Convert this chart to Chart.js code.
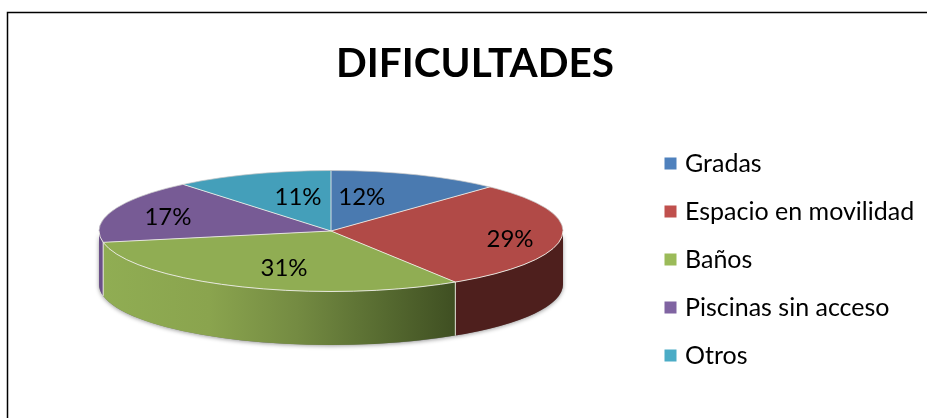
<!DOCTYPE html>
<html lang="es">
<head>
<meta charset="utf-8">
<style>html,body{margin:0;padding:0;background:#fff}canvas{display:block}</style>
<script src="https://cdn.jsdelivr.net/npm/chart.js@4"></script>
</head>
<body>
<canvas id="c" width="927" height="418"></canvas>
<script>
const titleText = 'DIFICULTADES';
const categories = ['Gradas', 'Espacio en movilidad', 'Baños', 'Piscinas sin acceso', 'Otros'];
const values = [12, 29, 31, 17, 11];
const topColors = ['#4a7ab0', '#b14a47', '#90ad53', '#775b95', '#449fba'];
const legendColors = ['#4f81bd', '#c0504d', '#9bbb59', '#8064a2', '#4bacc6'];
const wallColors = ['#2f4a6e', '#4e1f1d', null, '#6a4f88', '#2c6a7c'];
const bathWallStops = [[0, '#90ad53'], [0.3, '#8aa44e'], [0.55, '#748b42'], [0.8, '#566a30'], [1, '#3f4f22']];

// Layout of the tilted pie and of its labels
const PIE = { cx: 331, cy: 231, rx: 232, ry: 60.5, depth: 53.5 };
const labelReachX = [0.36, 0.775, 0.51, 0.747, 0.42];
const labelReachY = [0.6, 1.5, 0.68, 0.68, 0.6];
const LEGEND_POS = { left: 645.5, top: 128 };

const FONT = 'Lato, Carlito, Calibri, "Open Sans", sans-serif';

const pt = (a, r = 1, dy = 0) => [PIE.cx + PIE.rx * r * Math.cos(a), PIE.cy + PIE.ry * r * Math.sin(a) + dy];

const pie3d = {
  id: 'pie3d',
  beforeDraw(chart) {
    const c = chart.ctx;
    c.save();
    c.fillStyle = '#fff';
    c.fillRect(0, 0, chart.width, chart.height);
    c.strokeStyle = '#000';
    c.lineWidth = 1.5;
    c.beginPath();
    c.moveTo(7.5, chart.height);
    c.lineTo(7.5, 12.5);
    c.lineTo(chart.width, 12.5);
    c.stroke();
    c.restore();
  },
  afterLayout(chart) {
    const l = chart.legend;
    const w = l.width, h = l.height;
    l.left = LEGEND_POS.left; l.right = l.left + w;
    l.top = LEGEND_POS.top; l.bottom = l.top + h;
  },
  beforeDatasetsDraw(chart) {
    const c = chart.ctx;
    const arcs = chart.getDatasetMeta(0).data;
    // soft shadow under the whole body
    c.save();
    c.shadowColor = 'rgba(0,0,0,0.4)';
    c.shadowBlur = 4;
    c.shadowOffsetY = 1;
    c.fillStyle = '#777';
    c.beginPath();
    c.ellipse(PIE.cx, PIE.cy, PIE.rx, PIE.ry, 0, 0, Math.PI);
    c.ellipse(PIE.cx, PIE.cy + PIE.depth, PIE.rx, PIE.ry, 0, Math.PI, 0, true);
    c.closePath();
    c.fill();
    c.restore();
    // side walls of the front half
    arcs.forEach((arc, i) => {
      const a = Math.max(arc.startAngle, 0), b = Math.min(arc.endAngle, Math.PI);
      if (b <= a) return;
      c.save();
      if (wallColors[i]) {
        c.fillStyle = wallColors[i];
      } else {
        const g = c.createLinearGradient(pt(b)[0], 0, pt(a)[0], 0);
        bathWallStops.forEach(s => g.addColorStop(s[0], s[1]));
        c.fillStyle = g;
      }
      c.beginPath();
      c.ellipse(PIE.cx, PIE.cy, PIE.rx, PIE.ry, 0, a, b);
      c.ellipse(PIE.cx, PIE.cy + PIE.depth, PIE.rx, PIE.ry, 0, b, a, true);
      c.closePath();
      c.fill();
      c.strokeStyle = 'rgba(235,235,225,0.8)';
      c.lineWidth = 1;
      const p = pt(a), q = pt(b);
      c.beginPath();
      if (a > 0) { c.moveTo(p[0], p[1]); c.lineTo(p[0], p[1] + PIE.depth); }
      if (b < Math.PI) { c.moveTo(q[0], q[1]); c.lineTo(q[0], q[1] + PIE.depth); }
      c.stroke();
      c.restore();
    });
    // the library draws the slices through this flattening transform
    const a0 = arcs[0];
    c.save();
    c.translate(PIE.cx, PIE.cy);
    c.scale(PIE.rx / a0.outerRadius, PIE.ry / a0.outerRadius);
    c.translate(-a0.x, -a0.y);
  },
  afterDatasetsDraw(chart) {
    const c = chart.ctx;
    c.restore();
    const arcs = chart.getDatasetMeta(0).data;
    // slice separators and light rim
    c.save();
    c.strokeStyle = 'rgba(240,240,232,0.85)';
    c.lineWidth = 1;
    arcs.forEach(arc => {
      const p = pt(arc.startAngle);
      c.beginPath();
      c.moveTo(PIE.cx, PIE.cy);
      c.lineTo(p[0], p[1]);
      c.stroke();
    });
    c.strokeStyle = 'rgba(240,240,232,0.9)';
    c.beginPath();
    c.ellipse(PIE.cx, PIE.cy, PIE.rx, PIE.ry, 0, 0, Math.PI);
    c.stroke();
    c.strokeStyle = 'rgba(200,200,200,0.7)';
    c.beginPath();
    c.ellipse(PIE.cx, PIE.cy, PIE.rx, PIE.ry, 0, Math.PI, 2 * Math.PI);
    c.stroke();
    // percentage labels
    const total = values.reduce((s, v) => s + v, 0);
    c.fillStyle = '#000';
    c.font = '24px ' + FONT;
    c.textAlign = 'center';
    c.textBaseline = 'middle';
    arcs.forEach((arc, i) => {
      const mid = (arc.startAngle + arc.endAngle) / 2;
      const x = PIE.cx + PIE.rx * labelReachX[i] * Math.cos(mid);
      const y = PIE.cy + PIE.ry * (Math.sin(mid) * labelReachY[i]);
      c.fillText(Math.round(values[i] / total * 100) + '%', x, y);
    });
    c.restore();
  }
};

new Chart(document.getElementById('c'), {
  type: 'pie',
  data: {
    labels: categories,
    datasets: [{ data: values, backgroundColor: topColors, borderWidth: 0, clip: false }]
  },
  options: {
    responsive: false,
    animation: false,
    layout: { padding: { left: 23 } },
    plugins: {
      title: {
        display: true,
        text: titleText,
        color: '#000',
        font: { family: FONT, size: 40.5, weight: 'bold' },
        padding: { top: 40, bottom: 10 }
      },
      legend: {
        position: 'right',
        align: 'start',
        labels: {
          color: '#000',
          font: { family: FONT, size: 25 },
          boxWidth: 4,
          boxHeight: 4,
          padding: 23,
          generateLabels: () => categories.map((t, i) => ({
            text: t,
            fillStyle: legendColors[i],
            strokeStyle: legendColors[i],
            lineWidth: 8,
            index: i
          }))
        }
      },
      tooltip: { enabled: false }
    }
  },
  plugins: [pie3d]
});
</script>
</body>
</html>
